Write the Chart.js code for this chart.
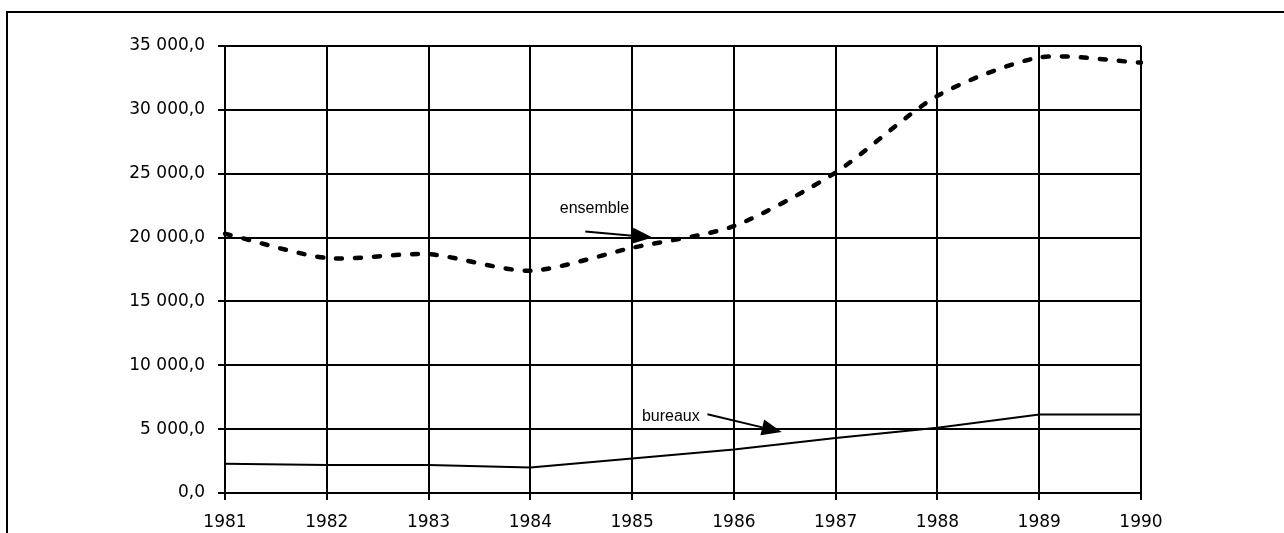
<!DOCTYPE html>
<html>
<head>
<meta charset="utf-8">
<script src="https://cdn.jsdelivr.net/npm/chart.js@4"></script>
<style>
  html, body { margin: 0; padding: 0; background: #fff; }
  #wrap { width: 1284px; height: 533px; }
</style>
</head>
<body>
<div id="wrap"><canvas id="chart" width="1284" height="533"></canvas></div>
<script>
// years on the x axis
const years = ['1981', '1982', '1983', '1984', '1985', '1986', '1987', '1988', '1989', '1990'];

// series
const ensemble = [20300, 18400, 18700, 17400, 19200, 20900, 25100, 31100, 34100, 33700];
const bureaux = [2300, 2200, 2200, 2000, 2700, 3400, 4300, 5100, 6150, 6150];

// y axis range
const yMin = 0;
const yMax = 35000;
const yStep = 5000;

// callout labels, anchored in data units (x = year index, y = value)
const calloutText = ['ensemble', 'bureaux'];
const calloutLabelAt = [[3.63, 22300], [4.38, 6000]];
const calloutArrowFrom = [[3.54, 20470], [4.74, 6170]];
const calloutArrowTo = [[4.20, 20000], [5.47, 4770]];

// "35 000,0"
function frNumber(v) {
    let s = Math.round(v).toString().replace(/\B(?=(\d{3})+(?!\d))/g, ' ');
    return s + ',0';
}

const ctx = document.getElementById('chart').getContext('2d');

const framePlugin = {
    id: 'frame',
    beforeDraw: (chart) => {
        const c = chart.ctx;
        c.save();
        c.strokeStyle = '#000';
        c.lineWidth = 2;
        c.beginPath();
        c.moveTo(7, chart.height);
        c.lineTo(7, 12);
        c.lineTo(chart.width, 12);
        c.stroke();
        c.restore();
    }
};

const calloutPlugin = {
    id: 'callouts',
    afterDatasetsDraw: (chart) => {
        const c = chart.ctx;
        const xs = chart.scales.x;
        const ys = chart.scales.y;
        c.save();
        c.fillStyle = '#000';
        c.strokeStyle = '#000';
        c.font = '16px "Liberation Sans", Arial, sans-serif';
        c.textAlign = 'center';
        c.textBaseline = 'middle';
        calloutText.forEach((txt, i) => {
            const tx = xs.getPixelForValue(calloutLabelAt[i][0]);
            const ty = ys.getPixelForValue(calloutLabelAt[i][1]);
            c.fillText(txt, tx, ty);

            const x1 = xs.getPixelForValue(calloutArrowFrom[i][0]);
            const y1 = ys.getPixelForValue(calloutArrowFrom[i][1]);
            const x2 = xs.getPixelForValue(calloutArrowTo[i][0]);
            const y2 = ys.getPixelForValue(calloutArrowTo[i][1]);
            const ang = Math.atan2(y2 - y1, x2 - x1);
            const headLen = 20, headHalf = 8;
            const bx = x2 - headLen * Math.cos(ang);
            const by = y2 - headLen * Math.sin(ang);

            c.lineWidth = 2;
            c.beginPath();
            c.moveTo(x1, y1);
            c.lineTo(bx, by);
            c.stroke();

            c.beginPath();
            c.moveTo(x2, y2);
            c.lineTo(bx + headHalf * Math.sin(ang), by - headHalf * Math.cos(ang));
            c.lineTo(bx - headHalf * Math.sin(ang), by + headHalf * Math.cos(ang));
            c.closePath();
            c.fill();
        });
        c.restore();
    }
};

const chart = new Chart(ctx, {
    type: 'line',
    data: {
        labels: years,
        datasets: [
            {
                label: 'ensemble',
                data: ensemble,
                borderColor: '#000',
                borderWidth: 4.5,
                borderDash: [6, 13],
                borderCapStyle: 'round',
                tension: 0.25,
                pointRadius: 0,
                fill: false
            },
            {
                label: 'bureaux',
                data: bureaux,
                borderColor: '#000',
                borderWidth: 2,
                tension: 0,
                pointRadius: 0,
                fill: false
            }
        ]
    },
    options: {
        responsive: false,
        animation: false,
        events: [],
        layout: { padding: { left: 0, top: 46, right: 143, bottom: 0 } },
        plugins: {
            legend: { display: false },
            tooltip: { enabled: false }
        },
        scales: {
            x: {
                grid: { color: '#000', lineWidth: 2, tickLength: 7 },
                border: { color: '#000', width: 2 },
                ticks: {
                    color: '#000',
                    font: { family: '"DejaVu Sans", sans-serif', size: 17 },
                    padding: 12,
                    maxRotation: 0,
                    autoSkip: false
                },
                afterFit: (scale) => { scale.height = 40; }
            },
            y: {
                min: yMin,
                max: yMax,
                grid: { color: '#000', lineWidth: 2, tickLength: 7 },
                border: { color: '#000', width: 2 },
                ticks: {
                    stepSize: yStep,
                    color: '#000',
                    font: { family: '"DejaVu Sans", sans-serif', size: 17 },
                    padding: 13,
                    callback: (v) => frNumber(v)
                },
                afterFit: (scale) => { scale.width = 225; }
            }
        }
    },
    plugins: [framePlugin, calloutPlugin]
});
</script>
</body>
</html>
